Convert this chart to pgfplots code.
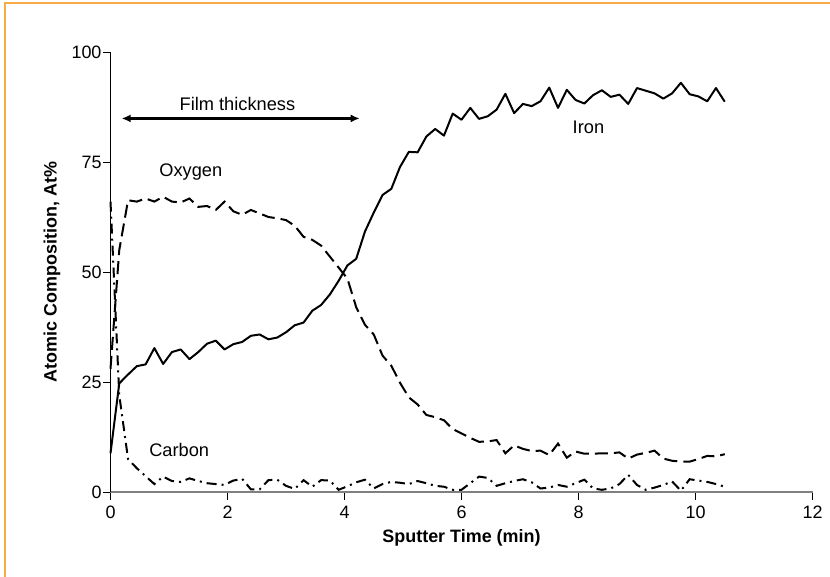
\documentclass[border=0pt]{standalone}
\usepackage{pgfplots}
\pgfplotsset{compat=1.18}
\usepackage{pgfplotstable}
\usepackage{fontspec}
\setmainfont{Liberation Sans}
\usetikzlibrary{arrows.meta}
\definecolor{frameorange}{RGB}{247,170,70}
\pgfplotstableread{
x fe o c
0 8.8 28 66
0.15 24.7 55 22
0.3 26.7 66.3 7.5
0.45 28.6 66.0 5.4
0.6 29.0 66.7 3.6
0.75 32.7 66.0 1.8
0.9 29.1 67.1 3.5
1.05 31.8 66.0 2.5
1.2 32.4 65.8 2.3
1.35 30.2 66.7 3.1
1.5 31.8 64.8 2.5
1.65 33.7 65.0 2.0
1.8 34.4 64.1 1.8
1.95 32.4 66.0 1.6
2.1 33.6 63.8 2.6
2.25 34.1 63.0 3.0
2.4 35.5 64.1 0.6
2.55 35.8 63.3 0.6
2.7 34.7 62.5 2.7
2.85 35.1 62.2 2.8
3.0 36.3 61.8 1.4
3.15 37.9 60.5 0.7
3.3 38.5 58.0 2.7
3.45 41.2 57.3 1.2
3.6 42.5 56.0 2.7
3.75 44.9 53.5 2.6
3.9 48.0 51.0 0.5
4.05 51.5 48.5 1.3
4.2 53.0 42.0 2.2
4.35 59.2 38.0 2.8
4.5 63.5 35.8 0.8
4.65 67.5 31.0 1.8
4.8 68.9 28.7 2.3
4.95 73.9 24.8 2.1
5.1 77.3 21.5 1.8
5.25 77.2 19.9 2.5
5.4 80.8 17.5 2.0
5.55 82.5 17.0 1.4
5.7 81.0 16.3 1.2
5.85 86.0 14.3 0.5
6.0 84.6 13.3 0.5
6.15 87.3 12.3 2.0
6.3 84.8 11.4 3.5
6.45 85.4 11.5 3.2
6.6 86.9 11.8 1.4
6.75 90.5 8.8 2.0
6.9 86.1 10.6 2.5
7.05 88.2 9.8 2.9
7.2 87.7 9.3 2.2
7.35 88.8 9.4 0.8
7.5 91.9 8.4 1.0
7.65 87.3 11.0 1.6
7.8 91.4 7.8 1.2
7.95 89.1 9.2 2.0
8.1 88.3 8.7 2.8
8.25 90.2 8.7 0.8
8.4 91.3 8.8 0.5
8.55 89.8 8.8 0.8
8.7 90.3 9.0 1.8
8.85 88.2 7.6 3.9
9.0 91.8 8.5 1.6
9.15 91.2 8.9 0.5
9.3 90.6 9.4 1.0
9.45 89.4 7.6 1.6
9.6 90.6 7.1 2.4
9.75 93.0 6.9 0.3
9.9 90.4 6.9 2.9
10.05 89.9 7.5 2.6
10.2 88.8 8.2 2.3
10.35 91.8 8.1 1.8
10.5 88.7 8.6 1.2
}\data
\begin{document}
\begin{tikzpicture}
\path[use as bounding box, fill=white] (-110.5bp,-85bp) rectangle (719.5bp,492bp);
\draw[frameorange, line width=1.4bp] (-105.5bp,-90bp) -- (-105.5bp,489bp) -- (725bp,489bp);
\begin{axis}[
  at={(0,0)}, anchor=south west,
  width=702bp, height=440bp, scale only axis,
  xmin=0, xmax=12, ymin=0, ymax=100,
  axis lines=left,
  x axis line style={-, draw=gray, line width=1.6bp},
  y axis line style={-, draw=black, line width=0.8bp},
  xtick={0,2,...,12}, ytick={0,25,50,75,100},
  tick align=outside, major tick length=7.5bp,
  tick style={black, line width=0.8bp},
  /pgf/number format/assume math mode=true,
  tick label style={font=\fontsize{18}{21}\selectfont},
  xticklabel style={yshift=-3bp},
  yticklabel style={xshift=2bp},
  label style={font=\fontsize{18}{21}\selectfont\bfseries},
  xlabel={Sputter Time (min)},
  ylabel={Atomic Composition, At\%},
  xlabel style={at={(axis description cs:0.5,-0.105)}, anchor=center},
  ylabel style={at={(axis description cs:-0.0833,0.5)}, anchor=center},
  clip=false,
]
\addplot[black, line width=2bp, line join=round] table[x=x, y=fe] {\data};
\addplot[black, line width=2bp, dash pattern=on 13bp off 6bp] table[x=x, y=o] {\data};
\addplot[black, line width=2bp, dash pattern=on 10bp off 5bp on 2bp off 5bp] table[x=x, y=c] {\data};
\draw[{Latex[length=9bp,width=8bp]}-{Latex[length=9bp,width=8bp]}, line width=2.5bp] (axis cs:0.19,84.9) -- (axis cs:4.26,84.9);
\node[anchor=base, font=\fontsize{18.3}{22}\selectfont] at (axis cs:2.17,86.8) {Film thickness};
\node[anchor=base, font=\fontsize{18.3}{22}\selectfont] at (axis cs:1.373,71.7) {Oxygen};
\node[anchor=base, font=\fontsize{18.3}{22}\selectfont] at (axis cs:8.17,81.5) {Iron};
\node[anchor=base, font=\fontsize{18.3}{22}\selectfont] at (axis cs:1.174,8.0) {Carbon};
\end{axis}
\end{tikzpicture}
\end{document}
